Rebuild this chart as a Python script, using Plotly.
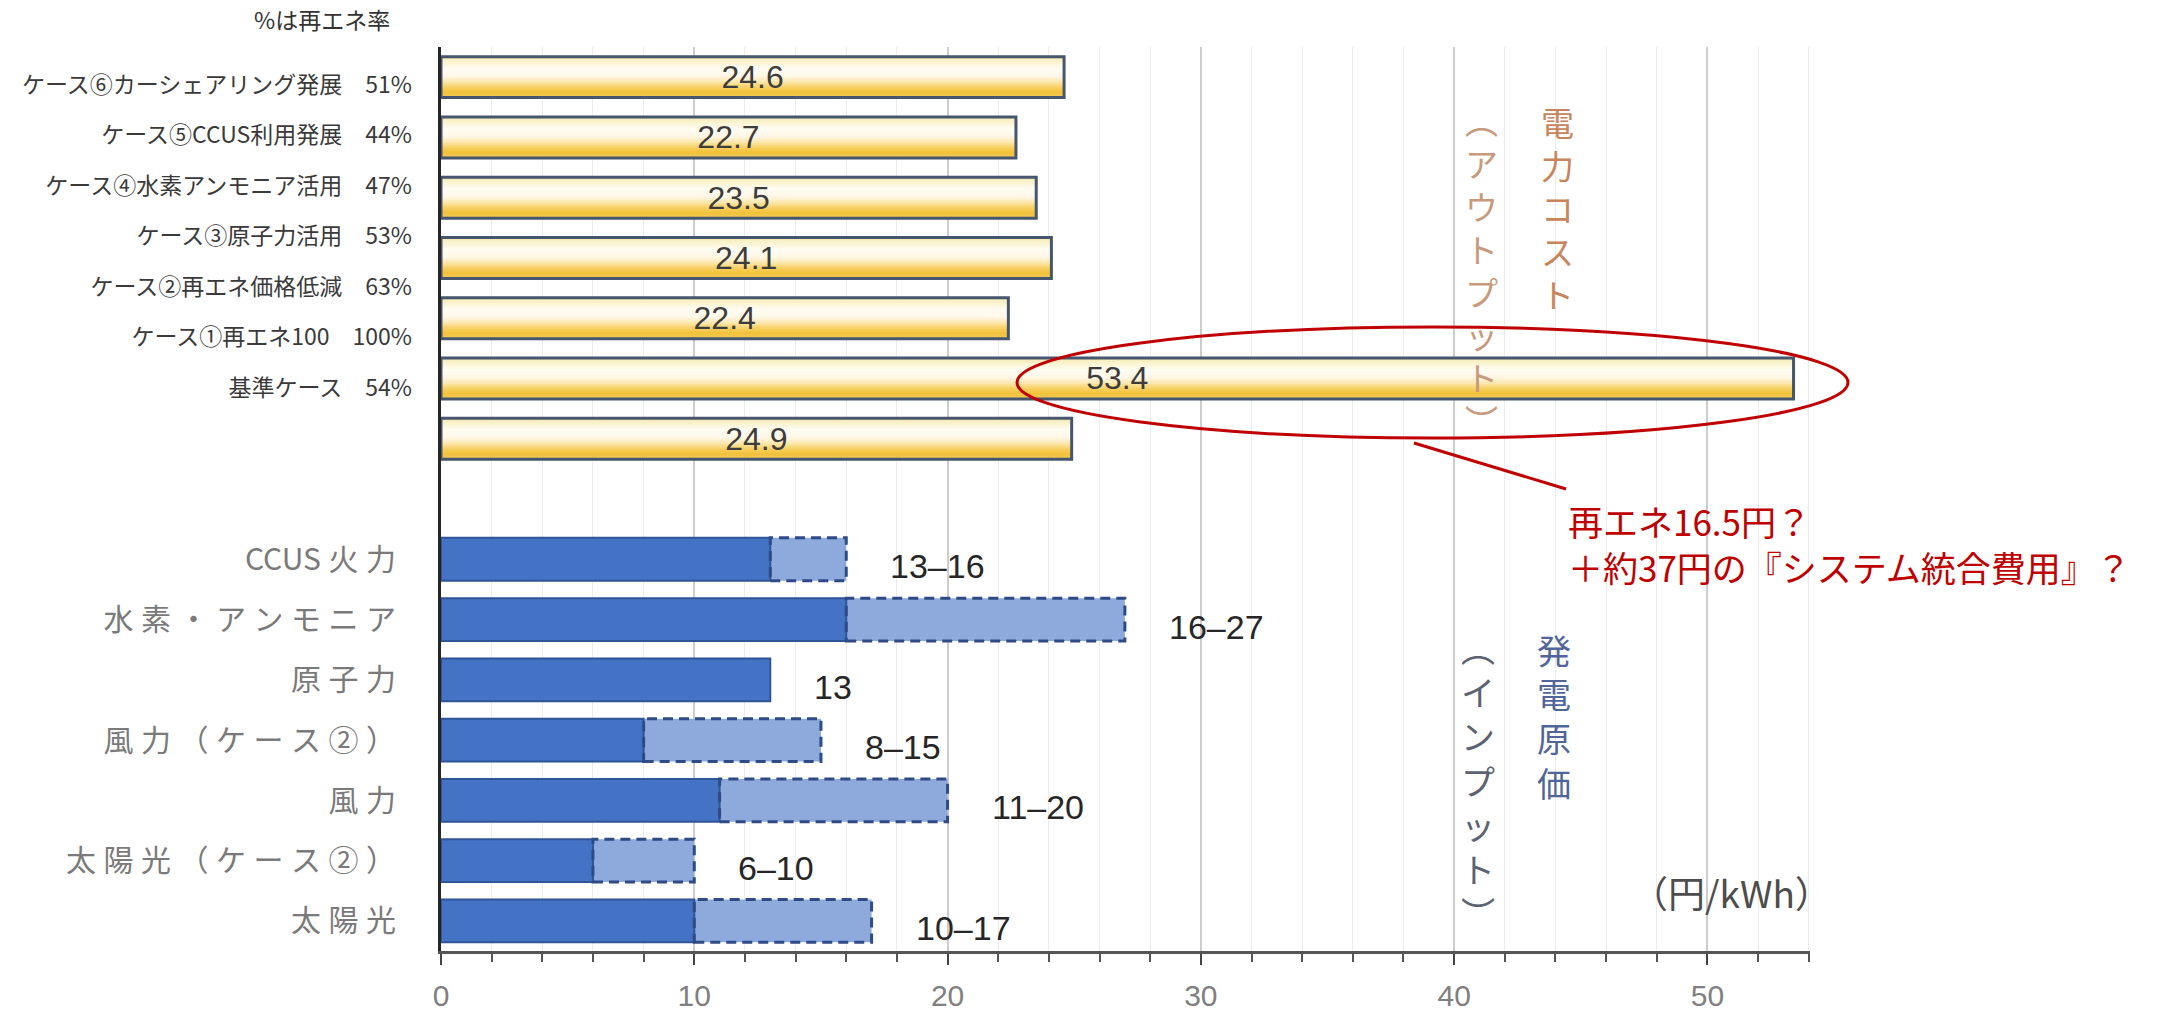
import plotly.graph_objects as go

# ---------------- data ----------------
# upper block: 電力コスト (output), listed bottom -> top
cost_values = [24.9, 53.4, 22.4, 24.1, 23.5, 22.7, 24.6]
# labels of the upper block as they appear in the picture, bottom -> top
case_names = ["基準ケース", "ケース①再エネ100", "ケース②再エネ価格低減", "ケース③原子力活用",
              "ケース④水素アンモニア活用", "ケース⑤CCUS利用発展", "ケース⑥カーシェアリング発展"]
case_re_share = ["54%", "100%", "63%", "53%", "47%", "44%", "51%"]

# lower block: 発電原価 (input), listed bottom -> top
source_names = ["太陽光", "太陽光（ケース②）", "風力", "風力（ケース②）", "原子力",
                "水素・アンモニア", "CCUS火力"]
source_low = [10, 6, 11, 8, 13, 16, 13]
source_high = [17, 10, 20, 15, 13, 27, 16]

x_ticks = [0, 10, 20, 30, 40, 50]

# ---------------- layout helpers ----------------
FIG_W, FIG_H = 2175, 1014
L, R, T, B = 441, 365, 47, 63
PW, PH = FIG_W - L - R, FIG_H - T - B


def P(px, py):
    return (px - L) / PW, (FIG_H - B - py) / PH


lower_pos = list(range(len(source_names)))
upper_pos = [len(source_names) + 1 + i for i in range(len(cost_values))]

W_TOP = 0.68
W_BOT = 0.71

stops = [(0.0, (240, 228, 160)), (0.12, (249, 241, 200)), (0.32, (255, 252, 242)),
         (0.5, (255, 247, 232)), (0.64, (252, 232, 176)), (0.78, (247, 207, 96)),
         (0.9, (243, 194, 58)), (1.0, (241, 200, 84))]


def grad(t):
    for (t0, c0), (t1, c1) in zip(stops[:-1], stops[1:]):
        if t0 <= t <= t1:
            f = (t - t0) / (t1 - t0)
            c = [round(a + (b - a) * f) for a, b in zip(c0, c1)]
            return "rgb(%d,%d,%d)" % tuple(c)
    return "rgb(%d,%d,%d)" % stops[-1][1]


fig = go.Figure()

# gradient strips of the yellow bars
N = 24
for k in range(N):
    t = (k + 0.5) / N
    off = W_TOP / 2 - (k + 1) * W_TOP / N
    w = W_TOP / N * (1.0 if k == 0 else 1.7)
    fig.add_bar(x=cost_values, y=upper_pos, orientation="h", offset=off, width=w,
                marker=dict(color=grad(t), line=dict(width=0)),
                hoverinfo="skip", showlegend=False)

# outline + value labels
fig.add_bar(x=cost_values, y=upper_pos, orientation="h", width=W_TOP, offset=-W_TOP / 2,
            marker=dict(color="rgba(0,0,0,0)", line=dict(color="#46566e", width=3)),
            text=[f"{v:.1f}" for v in cost_values], textposition="inside",
            insidetextanchor="middle", constraintext="none",
            textfont=dict(size=32, color="#3c3c3c", family="Liberation Sans, Arial"),
            hoverinfo="skip", showlegend=False)

# lower block: range part (light) and low part (dark)
fig.add_bar(x=[h - l for l, h in zip(source_low, source_high)], base=source_low,
            y=lower_pos, orientation="h", width=W_BOT,
            marker=dict(color="#8eaadc", line=dict(width=0)),
            hoverinfo="skip", showlegend=False)
fig.add_bar(x=source_low, y=lower_pos, orientation="h", width=W_BOT,
            marker=dict(color="#4472c4", line=dict(color="#2f5597", width=2)),
            hoverinfo="skip", showlegend=False)

# invisible trace carrying the upper-block label axis
fig.add_scatter(x=[0] * len(case_names), y=list(range(len(case_names))), yaxis="y2",
                mode="markers", marker=dict(opacity=0), hoverinfo="skip", showlegend=False)

shapes = []
for lo, hi, p in zip(source_low, source_high, lower_pos):
    if hi > lo:
        shapes.append(dict(type="rect", xref="x", yref="y", x0=lo, x1=hi,
                           y0=p - W_BOT / 2, y1=p + W_BOT / 2,
                           line=dict(color="#2f4b86", width=3, dash="10px,6px"),
                           fillcolor="rgba(0,0,0,0)", layer="above"))

# red ellipse and pointer
ex0, ey0 = P(1017, 438)
ex1, ey1 = P(1848, 327)
shapes.append(dict(type="circle", xref="paper", yref="paper", x0=ex0, x1=ex1, y0=ey0, y1=ey1,
                   line=dict(color="#c00000", width=3), layer="above"))
lx0, ly0 = P(1414, 443)
lx1, ly1 = P(1566, 489)
shapes.append(dict(type="line", xref="paper", yref="paper", x0=lx0, y0=ly0, x1=lx1, y1=ly1,
                   line=dict(color="#c00000", width=3), layer="above"))

annotations = []
# range labels
for lo, hi, p in zip(source_low, source_high, lower_pos):
    txt = f"{lo}–{hi}" if hi > lo else f"{lo}"
    annotations.append(dict(x=hi, y=p, xref="x", yref="y", text=txt, showarrow=False,
                            xanchor="left", yanchor="middle", xshift=42, yshift=-7,
                            font=dict(size=34, color="#262626", family="Liberation Sans, Arial")))


def add_text(txt, px, py, size, color, xanchor="center", family="Noto Sans CJK JP", align="center"):
    ax, ay = P(px, py)
    annotations.append(dict(x=ax, y=ay, xref="paper", yref="paper", text=txt,
                            showarrow=False, xanchor=xanchor, yanchor="middle", align=align,
                            font=dict(size=size, color=color, family=family)))


def vertical(txt, px, py_center, size, color):
    add_text("<br>".join(txt), px, py_center, size, color)


vertical("電力コスト", 1557, 208, 33, "#c8845a")
vertical("︵アウトプット︶", 1481, 270, 33, "#c9997c")
vertical("発電原価", 1554, 716, 34, "#52659a")
vertical("︵インプット︶", 1478, 780, 34, "#5c6272")

add_text("再エネ16.5円？<br>＋約37円の『システム統合費用』？", 1566, 543, 35, "#c00000",
         xanchor="left", align="left")
add_text("（円/kWh）", 1731, 892, 37, "#4d4d4d")
add_text("%は再エネ率", 322, 19, 23, "#333333")


def spaced(s):
    out = s[0]
    for a, b in zip(s[:-1], s[1:]):
        out += ("" if (a.isascii() and b.isascii()) else "\u2005") + b
    return out


fig.update_layout(
    width=FIG_W, height=FIG_H, autosize=False,
    margin=dict(l=L, r=R, t=T, b=B, pad=0, autoexpand=False),
    paper_bgcolor="white", plot_bgcolor="white",
    barmode="overlay", showlegend=False,
    xaxis=dict(range=[0, 54.05], tickvals=x_ticks, showgrid=True, gridcolor="#cdcdcd",
               gridwidth=1.5, ticks="outside", ticklen=11, tickwidth=2, tickcolor="#444444",
               showline=True, linecolor="#555555", linewidth=2.5, zeroline=False,
               automargin=False,
               tickfont=dict(size=30, color="#808080", family="Liberation Sans, Arial"),
               ticklabelstandoff=5,
               minor=dict(dtick=2, tick0=0, showgrid=True, gridcolor="#ececec", gridwidth=1,
                          ticks="outside", ticklen=8, tickwidth=2, tickcolor="#555555")),
    yaxis=dict(range=[-0.5, 14.5], tickvals=lower_pos,
               ticktext=[spaced(s) for s in source_names],
               showgrid=False, zeroline=False, showline=True, linecolor="#262626",
               linewidth=3, ticks="", automargin=False,
               tickfont=dict(size=30, color="#7a7a7a", family="Noto Sans CJK JP"),
               ticklabelstandoff=36),
    yaxis2=dict(overlaying="y", side="left", range=[-11.15, 6.75],
                tickvals=list(range(len(case_names))),
                ticktext=[f"{n}\u3000{s}" for n, s in zip(case_names, case_re_share)],
                showgrid=False, zeroline=False, showline=False, ticks="", automargin=False,
                tickfont=dict(size=23, color="#3a3a3a",
                              family="Liberation Sans Narrow, Noto Sans CJK JP"),
                ticklabelstandoff=28),
    shapes=shapes, annotations=annotations,
)

fig.write_html("out.html")
